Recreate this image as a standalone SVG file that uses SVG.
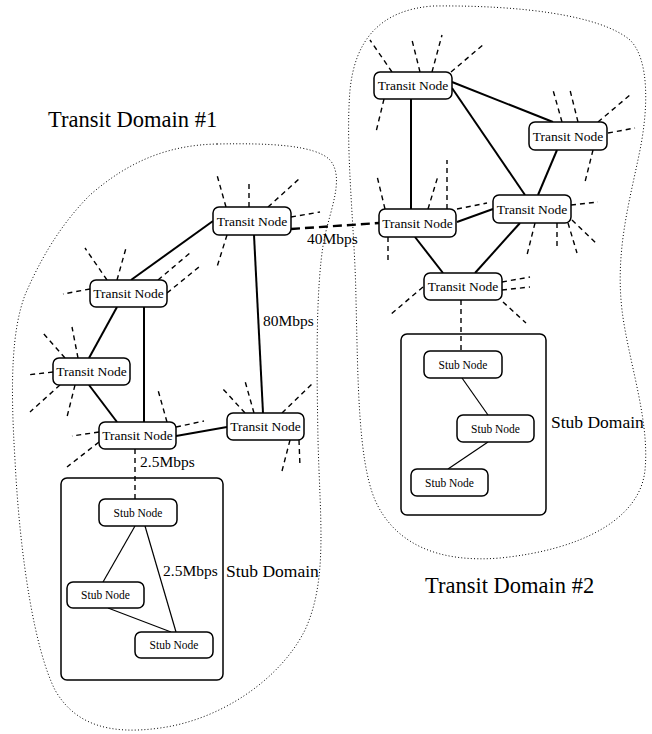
<svg xmlns="http://www.w3.org/2000/svg" width="652" height="734" viewBox="0 0 652 734">
<style>
text{font-family:"Liberation Serif","Times New Roman",serif;fill:#000}
.tn rect,.sn rect{fill:#fff;stroke:#000;stroke-width:1.5}
.tn text{font-size:13.5px;text-anchor:middle}
.sn text{font-size:11.5px;text-anchor:middle}
.bnd{fill:none;stroke:#000;stroke-width:1;stroke-dasharray:1 2.2}
.sd{fill:none;stroke:#000;stroke-width:1.5}
.e{stroke:#000;stroke-width:2;fill:none}
.es{stroke:#000;stroke-width:1.2;fill:none}
.d{stroke:#000;stroke-width:1.4;stroke-dasharray:5 4;fill:none}
.big{stroke:#000;stroke-width:2.4;stroke-dasharray:9 5;fill:none}
.lbl{font-size:15.5px}
.dom{font-size:17.5px}
.title{font-size:22.5px}
</style>
<g id="domain1-boundary"><path class="bnd" d="M217,144 C270,143 315,145 330,160 C345,178 330,210 324,240 C315,290 317,380 318,440 C320,520 328,580 305,630 C280,680 220,720 160,728 C110,735 75,725 55,690 C35,650 20,560 15,460 C10,380 12,330 25,295 C40,260 60,225 90,195 C130,160 170,145 217,144 Z"/></g>
<g id="domain2-boundary"><path class="bnd" d="M433,6 C520,5 600,15 630,40 C650,60 648,110 640,150 C630,200 615,250 622,310 C628,360 650,420 645,470 C640,520 580,550 500,558 C440,563 395,545 375,500 C358,460 358,380 356,300 C355,230 345,150 350,90 C355,40 380,10 433,6 Z"/></g>
<g id="stub-domain1"><rect class="sd" x="61" y="478" width="162" height="202" rx="6"/></g>
<g id="stub-domain2"><rect class="sd" x="401" y="334" width="145" height="181" rx="6"/></g>
<g id="connectors">
<line class="e" x1="213" y1="221" x2="131" y2="280"/>
<line class="e" x1="254" y1="235" x2="263" y2="413"/>
<line class="e" x1="117" y1="307" x2="89" y2="358"/>
<line class="e" x1="144" y1="307" x2="144" y2="422"/>
<line class="e" x1="89" y1="385" x2="117" y2="422"/>
<line class="e" x1="176" y1="436" x2="227" y2="427"/>
<line class="big" x1="291" y1="229" x2="379" y2="223"/>
<line class="e" x1="411" y1="99" x2="411" y2="209"/>
<line class="e" x1="452" y1="82" x2="553" y2="122"/>
<line class="e" x1="452" y1="88" x2="525" y2="195"/>
<line class="e" x1="557" y1="150" x2="538" y2="195"/>
<line class="e" x1="457" y1="222" x2="493" y2="209"/>
<line class="e" x1="415" y1="237" x2="443" y2="273"/>
<line class="e" x1="520" y1="223" x2="475" y2="273"/>
<line class="d" x1="135" y1="449" x2="135" y2="499"/>
<line class="d" x1="461" y1="300" x2="461" y2="351"/>
<line class="es" x1="135" y1="526" x2="103" y2="582"/>
<line class="es" x1="145" y1="526" x2="176" y2="632"/>
<line class="es" x1="108" y1="608" x2="171" y2="632"/>
<line class="es" x1="462" y1="378" x2="488" y2="415"/>
<line class="es" x1="488" y1="442" x2="448" y2="469"/>
<!-- stubs -->
<path class="d" d="M226,207L217,175M249,207L249,180M268,207L299,179M291,217L320,212M227,235L217,267"/>
<path class="d" d="M107,280L85,248M117,280L126,248M158,280L190,253M167,293L199,267M90,289L63,294"/>
<path class="d" d="M53,372L27,375M60,385L30,412M75,385L67,417M65,358L43,333M78,358L72,327"/>
<path class="d" d="M99,432L72,436M99,442L67,467M167,422L158,390M176,427L204,421"/>
<path class="d" d="M245,413L223,389M254,413L245,381M282,413L313,383M290,440L282,471M299,440L300,467"/>
<path class="d" d="M392,72L370,40M420,72L412,40M432,72L442,35M451,72L484,44M384,99L376,132"/>
<path class="d" d="M562,122L553,90M578,122L570,90M598,122L630,95M608,133L635,128M593,150L585,182"/>
<path class="d" d="M385,209L377,176M428,209L438,176M447,209L447,160M457,209L487,203M388,237L388,263"/>
<path class="d" d="M571,205L598,202M535,223L527,255M557,223L557,250M568,223L577,253M572,220L596,243"/>
<path class="d" d="M502,282L530,277M502,290L530,287M423,287L390,315M503,302L526,323"/>
</g>
<g id="TL1" class="tn"><rect x="213" y="207" width="78" height="28" rx="6"/><text x="252" y="225.5">Transit Node</text></g>
<g id="TL2" class="tn"><rect x="90" y="280" width="77" height="27" rx="6"/><text x="128.5" y="298">Transit Node</text></g>
<g id="TL3" class="tn"><rect x="53" y="358" width="77" height="27" rx="6"/><text x="91.5" y="376">Transit Node</text></g>
<g id="TL4" class="tn"><rect x="99" y="422" width="77" height="27" rx="6"/><text x="137.5" y="440">Transit Node</text></g>
<g id="TL5" class="tn"><rect x="227" y="413" width="77" height="27" rx="6"/><text x="265.5" y="431">Transit Node</text></g>
<g id="TR1" class="tn"><rect x="374" y="72" width="78" height="27" rx="6"/><text x="413" y="90">Transit Node</text></g>
<g id="TR2" class="tn"><rect x="529" y="122" width="78" height="28" rx="6"/><text x="568" y="140.5">Transit Node</text></g>
<g id="TR3" class="tn"><rect x="379" y="209" width="77" height="28" rx="6"/><text x="417.5" y="227.5">Transit Node</text></g>
<g id="TR4" class="tn"><rect x="493" y="195" width="78" height="28" rx="6"/><text x="532" y="213.5">Transit Node</text></g>
<g id="TR5" class="tn"><rect x="424" y="273" width="78" height="27" rx="6"/><text x="463" y="291">Transit Node</text></g>
<g id="S1" class="sn"><rect x="99" y="499" width="78" height="27" rx="6"/><text x="138" y="516.5">Stub Node</text></g>
<g id="S2" class="sn"><rect x="67" y="582" width="77" height="26" rx="6"/><text x="105.5" y="599">Stub Node</text></g>
<g id="S3" class="sn"><rect x="135" y="632" width="78" height="26" rx="6"/><text x="174" y="649">Stub Node</text></g>
<g id="SN1" class="sn"><rect x="424" y="351" width="78" height="27" rx="6"/><text x="463" y="368.5">Stub Node</text></g>
<g id="SN2" class="sn"><rect x="457" y="415" width="77" height="27" rx="6"/><text x="495.5" y="432.5">Stub Node</text></g>
<g id="SN3" class="sn"><rect x="411" y="469" width="77" height="27" rx="6"/><text x="449.5" y="486.5">Stub Node</text></g>
<g id="labels">
<text class="lbl" x="263" y="326">80Mbps</text>
<text class="lbl" x="307" y="244">40Mbps</text>
<text class="lbl" x="140" y="467">2.5Mbps</text>
<text class="lbl" x="163" y="576">2.5Mbps</text>
<text class="dom" x="226" y="577">Stub Domain</text>
<text class="dom" x="551" y="428">Stub Domain</text>
<text class="title" x="48" y="127">Transit Domain #1</text>
<text class="title" x="425" y="593">Transit Domain #2</text>
</g>
</svg>
